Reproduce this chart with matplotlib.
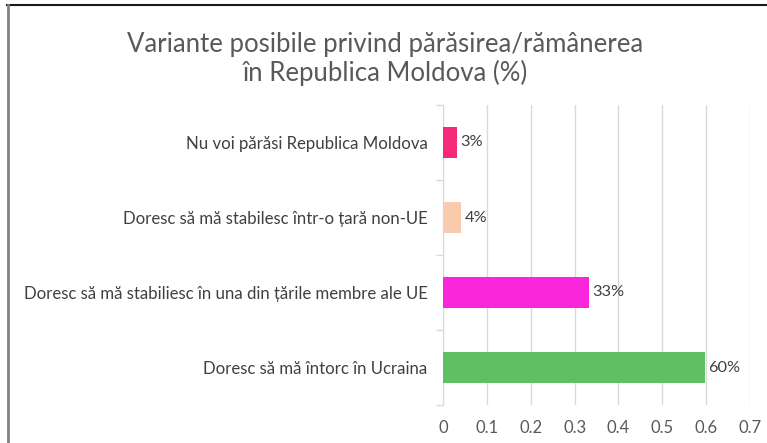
import numpy as np
from matplotlib import pyplot as plt
from matplotlib.lines import Line2D
from matplotlib.ticker import FixedLocator

categories = [
    'Nu voi părăsi Republica Moldova',
    'Doresc să mă stabilesc într-o țară non-UE',
    'Doresc să mă stabiliesc în una din țările membre ale UE',
    'Doresc să mă întorc în Ucraina',
]
values = [0.032, 0.041, 0.332, 0.597]
labels = ['3%', '4%', '33%', '60%']
colors = ['#F5287A', '#F7CBAC', '#F926DC', '#5FBF65']
x_ticks = [0, 0.1, 0.2, 0.3, 0.4, 0.5, 0.6, 0.7]

plt.rcParams['font.family'] = ['Lato', 'DejaVu Sans']

fig = plt.figure(figsize=(7.67, 4.43), dpi=100)
ax = fig.add_axes([443 / 767, 1 - 405 / 443, 307 / 767, 300 / 443])

pos = np.arange(len(categories))
ax.barh(pos, values, height=0.42, color=colors, zorder=3)
for p, v, lab in zip(pos, values, labels):
    ax.text(v + 0.008, p, lab, va='center', ha='left',
            fontsize=11.8, color='#404040')

ax.set_ylim(len(categories) - 0.5, -0.5)
ax.set_xlim(0, 0.7)
ax.set_yticks(pos)
ax.set_yticklabels(categories)
ax.yaxis.set_minor_locator(FixedLocator(np.arange(-0.5, len(categories), 1)))
ax.tick_params(axis='y', which='major', length=0, pad=11,
               labelsize=12.1, labelcolor='#404040')
ax.tick_params(axis='y', which='minor', length=5, color='#D9D9D9', width=1)
ax.set_xticks(x_ticks)
ax.set_xticklabels(['0'] + [f'{t:.1f}' for t in x_ticks[1:]])
ax.tick_params(axis='x', length=0, pad=11, labelsize=12, labelcolor='#595959')

ax.grid(axis='x', color='#D9D9D9', linewidth=1, zorder=0)
for s in ['top', 'right', 'bottom']:
    ax.spines[s].set_visible(False)
ax.spines['left'].set_color('#D9D9D9')

fig.text(0.502, 1 - 59 / 443,
         'Variante posibile privind părăsirea/rămânerea\nîn Republica Moldova (%)',
         ha='center', va='center', fontsize=18.5, color='#595959',
         linespacing=1.12)

# chart frame (partly cropped)
fig.add_artist(Line2D([7 / 767, 1], [1 - 5 / 443, 1 - 5 / 443],
                      color='#1A1A1A', linewidth=1.5))
fig.add_artist(Line2D([7.5 / 767, 7.5 / 767], [0, 1 - 5 / 443],
                      color='#808080', linewidth=2))

fig.savefig('out.png', dpi=100)
